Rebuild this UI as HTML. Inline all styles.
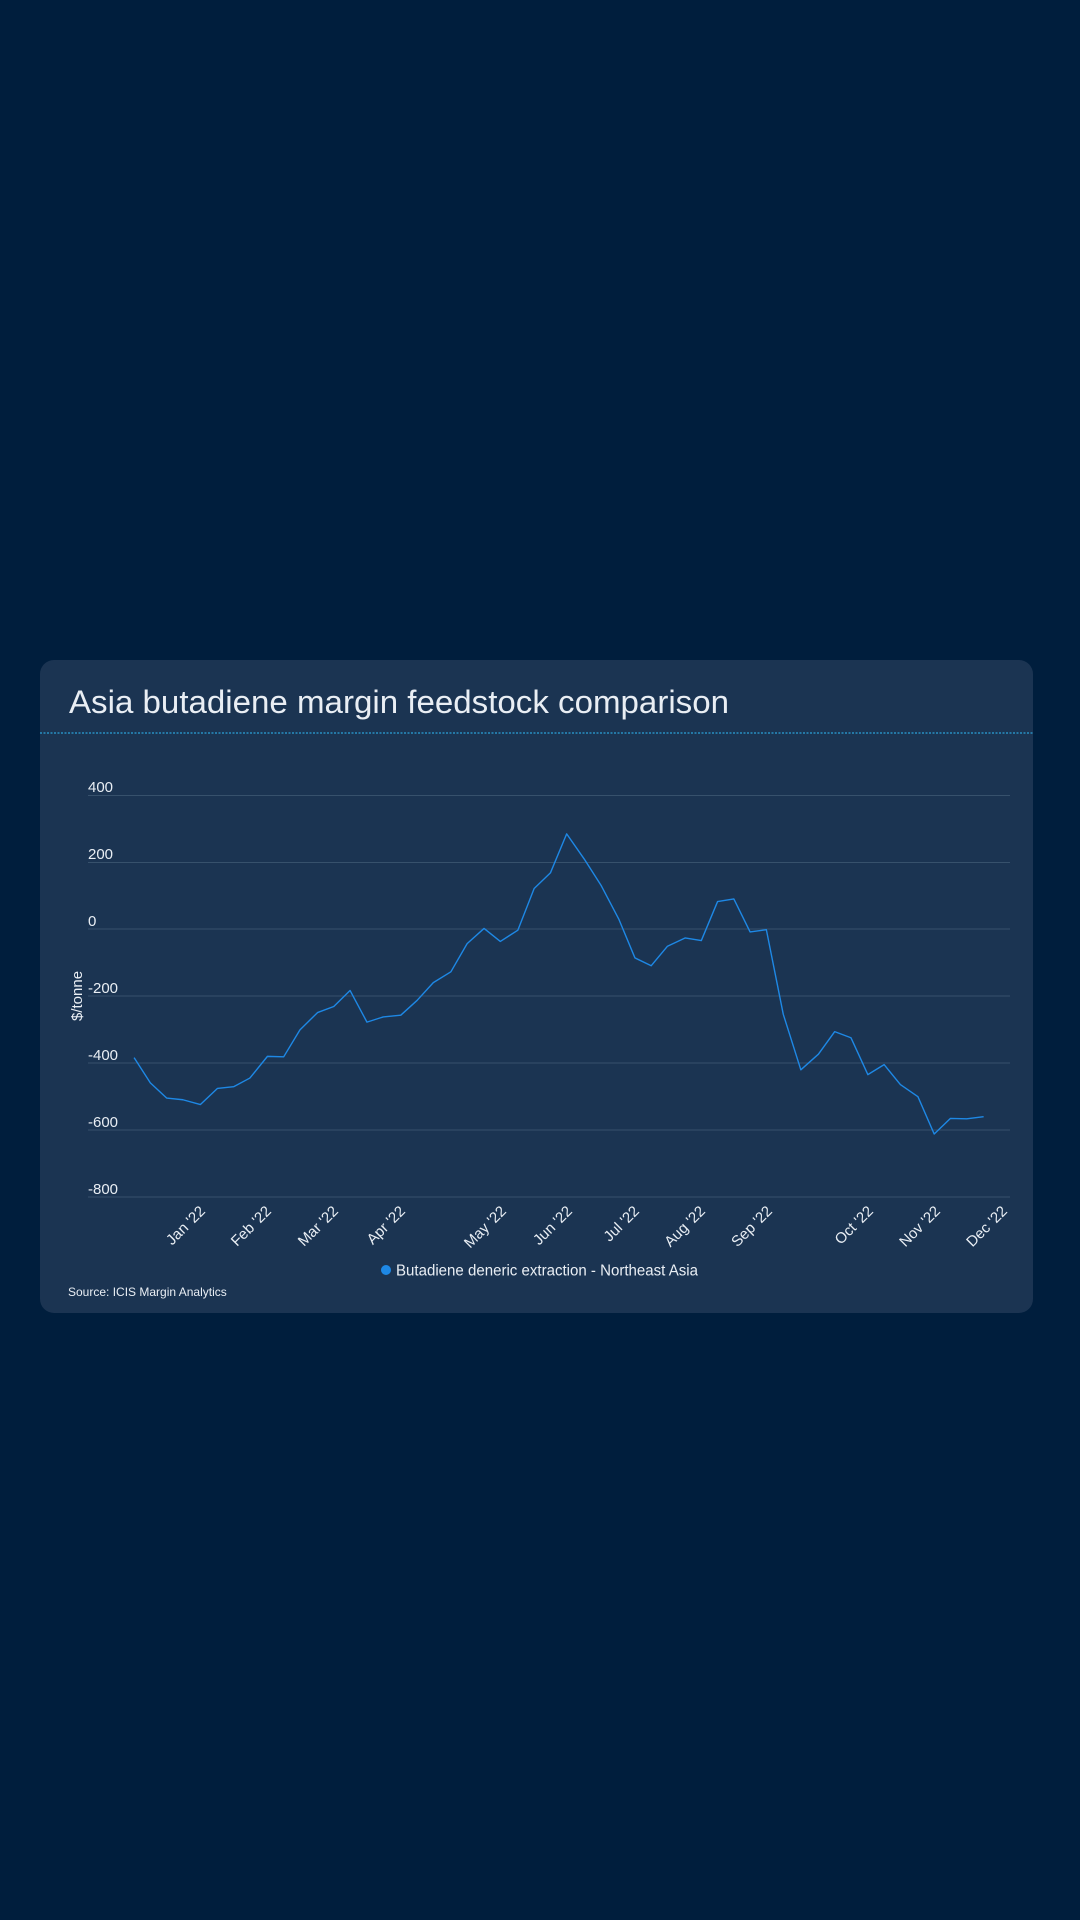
<!DOCTYPE html>
<html><head><meta charset="utf-8"><style>
html,body{margin:0;padding:0;background:#001e3d;width:1080px;height:1920px;overflow:hidden}
svg{display:block}
text{font-family:"Liberation Sans",sans-serif;fill:#e9eef4}
</style></head><body>
<svg width="1080" height="1920" viewBox="0 0 1080 1920">
<rect x="0" y="0" width="1080" height="1920" fill="#001e3d"/>
<rect x="40" y="660" width="993" height="653" rx="14" fill="#1b3452"/>
<text x="69" y="713" font-size="32" textLength="660" lengthAdjust="spacingAndGlyphs">Asia butadiene margin feedstock comparison</text>
<line x1="40" y1="733" x2="1033" y2="733" stroke="#2aa0d8" stroke-width="1.2" stroke-dasharray="2,1.5"/>
<g stroke="#37516c" stroke-width="1">
<line x1="88" y1="795.5" x2="1010" y2="795.5"/>
<line x1="88" y1="862.5" x2="1010" y2="862.5"/>
<line x1="88" y1="929" x2="1010" y2="929"/>
<line x1="88" y1="996" x2="1010" y2="996"/>
<line x1="88" y1="1063" x2="1010" y2="1063"/>
<line x1="88" y1="1130" x2="1010" y2="1130"/>
<line x1="88" y1="1197" x2="1010" y2="1197"/>
</g>
<g font-size="15">
<text x="88" y="792">400</text>
<text x="88" y="859">200</text>
<text x="88" y="926">0</text>
<text x="88" y="993">-200</text>
<text x="88" y="1060">-400</text>
<text x="88" y="1127">-600</text>
<text x="88" y="1194">-800</text>
</g>
<text transform="translate(82,996) rotate(-90)" font-size="15" text-anchor="middle">$/tonne</text>
<g transform="translate(30,650) scale(0.6505,0.4337)">
<polyline fill="none" stroke="#1e88e5" stroke-width="1.4" vector-effect="non-scaling-stroke" stroke-linejoin="round" points="160,940 185,998 210,1033 235,1037 262,1048 288,1011 313,1007 338,987 365,937 390,938 415,876 442,836 467,822 492,785 518,858 543,846 570,842 595,808 620,767 647,742 672,677 698,642 723,672 750,646 775,550 800,514 825,424 852,482 878,543 905,620 930,710 955,728 980,683 1007,664 1032,670 1057,580 1082,574 1107,650 1132,645 1158,840 1185,968 1212,932 1237,880 1262,894 1288,979 1313,956 1338,1002 1365,1030 1390,1116 1415,1080 1440,1081 1466,1076"/>
</g>
<g font-size="15" text-anchor="end">
<text transform="translate(206,1212) rotate(-45)">Jan '22</text>
<text transform="translate(272,1212) rotate(-45)">Feb '22</text>
<text transform="translate(339,1212) rotate(-45)">Mar '22</text>
<text transform="translate(406,1212) rotate(-45)">Apr '22</text>
<text transform="translate(507,1212) rotate(-45)">May '22</text>
<text transform="translate(573,1212) rotate(-45)">Jun '22</text>
<text transform="translate(640,1212) rotate(-45)">Jul '22</text>
<text transform="translate(706,1212) rotate(-45)">Aug '22</text>
<text transform="translate(773,1212) rotate(-45)">Sep '22</text>
<text transform="translate(874,1212) rotate(-45)">Oct '22</text>
<text transform="translate(941,1212) rotate(-45)">Nov '22</text>
<text transform="translate(1008,1212) rotate(-45)">Dec '22</text>
</g>
<circle cx="386" cy="1270" r="5" fill="#1e88e5"/>
<text x="396" y="1275.5" font-size="15.5" textLength="302" lengthAdjust="spacingAndGlyphs">Butadiene deneric extraction - Northeast Asia</text>
<text x="68" y="1296" font-size="12">Source: ICIS Margin Analytics</text>
</svg>
</body></html>
